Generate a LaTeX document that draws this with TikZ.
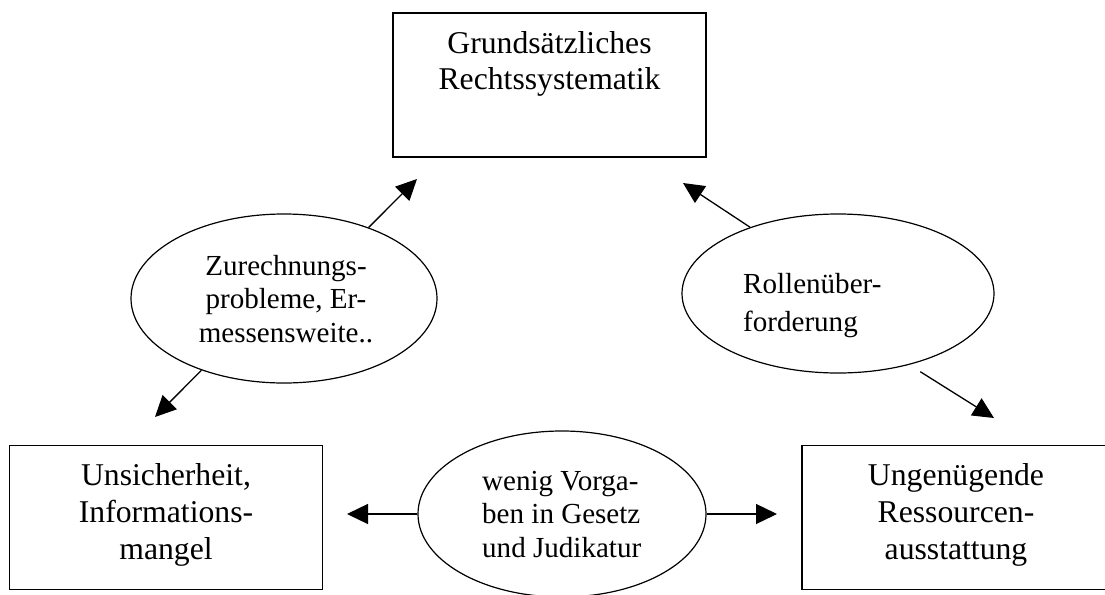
\documentclass[tikz,border=0pt]{standalone}
\usepackage{fontspec}
\setmainfont{Liberation Serif}
\usetikzlibrary{shapes.geometric,arrows.meta}
\begin{document}
\begin{tikzpicture}[x=1pt,y=-1pt,
  box/.style={draw, line width=1.8pt, minimum width=313pt, minimum height=144pt, inner sep=0pt},
  oval/.style={draw, ellipse, line width=1.2pt, inner sep=0pt},
  bigtxt/.style={font=\fontsize{31.7}{36.6}\selectfont, align=center, inner sep=0pt, anchor=base},
  smalltxt/.style={font=\fontsize{29.06}{33.8}\selectfont, inner sep=0pt, anchor=base},
  arr/.style={line width=1.3pt, -{Triangle[length=21pt,width=20pt]}}]
\useasboundingbox (0,0) rectangle (1105,594);
% boxes
\node[box] (top) at (549.5,85) {};
\node[box] (left) at (166,517.5) {};
\node[box] (right) at (958.5,517.5) {};
% ellipses
\node[oval, minimum width=306pt, minimum height=169pt] (eL) at (284,298.5) {};
\node[oval, minimum width=312pt, minimum height=159pt] (eR) at (838,293.5) {};
\node[oval, minimum width=288pt, minimum height=166pt] (eB) at (562,514) {};
% texts (anchor base = baseline of the last line)
\node[bigtxt] (tTop) at (549.5,89.6) {Grundsätzliches\\Rechtssystematik};
\node[bigtxt] (tLeft) at (166,559) {Unsicherheit,\\Informations-\\mangel};
\node[bigtxt] (tRight) at (956,559) {Ungenügende\\Ressourcen-\\ausstattung};
\node[smalltxt, align=center] (tL) at (286,342.6) {Zurechnungs-\\probleme, Er-\\messensweite..};
\node[smalltxt, align=left, anchor=base west] (tR) at (743,331) {Rollenüber-\\[4pt]forderung};
\node[smalltxt, align=left, anchor=base west] (tB) at (482,557.6) {wenig Vorga-\\ben in Gesetz\\und Judikatur};
% arrow tips
\coordinate (tipLU) at (417,179);
\coordinate (tipLD) at (155,417);
\coordinate (tipRU) at (683,183);
\coordinate (tipRD) at (994,418);
\coordinate (tipBL) at (347,514);
\coordinate (tipBR) at (777,514);
% connectors
\draw[arr] (eL.40) -- (tipLU);
\draw[arr] (eL.221) -- (tipLD);
\draw[arr] (eR.143) -- (tipRU);
\draw[arr, shorten <=13pt] (eR.-45) -- (tipRD);
\draw[arr] (eB.west) -- (tipBL);
\draw[arr] (eB.east) -- (tipBR);
\end{tikzpicture}
\end{document}
